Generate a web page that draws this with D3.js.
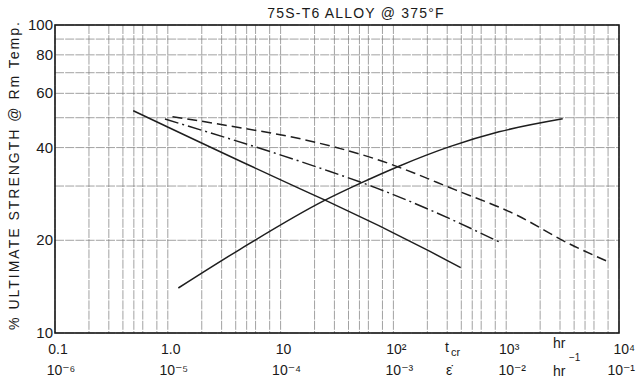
<!DOCTYPE html>
<html>
<head>
<meta charset="utf-8">
<script src="https://cdn.jsdelivr.net/npm/d3@7"></script>
<style>
  body { margin: 0; background: #fff; }
  svg { display: block; }
  text { font-family: "Liberation Sans", "DejaVu Sans", sans-serif; fill: #1a1a1a; }
</style>
</head>
<body>
<svg id="chart" width="636" height="380"></svg>
<script>
// x values are on the upper (hours) scale, y in % ultimate strength
const solidFallX = [0.494, 15.8, 24.8, 211, 395]
const solidFallY = [52.7, 29.1, 27.0, 18.4, 16.3]

const solidRiseX = [1.24, 4.37, 24.8, 50.6, 112, 311, 863, 3170]
const solidRiseY = [14.0, 18.7, 27.0, 30.6, 34.8, 40.2, 45.0, 49.6]

const dashDotX = [0.944, 22.4, 70.1, 211, 881]
const dashDotY = [49.5, 34.3, 29.6, 25.1, 19.7]

const dashedX = [1.10, 3.56, 19.4, 71.6, 359, 1222, 3604, 8147]
const dashedY = [50.4, 47.0, 41.8, 36.6, 29.1, 24.2, 19.5, 17.0]

const yTicks = [10, 20, 40, 60, 80, 100]
const yGrid = [10, 20, 30, 40, 50, 60, 70, 80, 90, 100]
const xDecades = [0.1, 1, 10, 100, 1000, 10000]
const xMinor = [2, 3, 4, 5, 6, 8]
const xTopLabels = ["0.1", "1.0", "10", "10²", "10³", "10⁴"]
const xBottomLabels = ["10⁻⁶", "10⁻⁵", "10⁻⁴", "10⁻³", "10⁻²", "10⁻¹"]

const svg = d3.select("#chart")
const plotL = 55, plotR = 619, plotT = 25, plotB = 333

const x = d3.scaleLog().domain([0.1, 1e4]).range([plotL, plotR])
const y = d3.scaleLog().domain([10, 100]).range([plotB, plotT])

// grid
const gridX = []
xDecades.slice(0, -1).forEach(d => xMinor.forEach(m => gridX.push(d * m)))
xDecades.forEach(d => gridX.push(d))

const grid = svg.append("g")
    .attr("stroke", "#7a7a7a")
    .attr("stroke-width", 0.7)
    .attr("stroke-dasharray", "9,1.2")

grid.selectAll("line.v")
    .data(gridX)
    .join("line")
    .attr("class", "v")
    .attr("x1", d => x(d)).attr("x2", d => x(d))
    .attr("y1", plotT).attr("y2", plotB)

grid.selectAll("line.h")
    .data(yGrid)
    .join("line")
    .attr("class", "h")
    .attr("x1", plotL).attr("x2", plotR)
    .attr("y1", d => y(d)).attr("y2", d => y(d))

// frame
svg.append("rect")
    .attr("x", plotL).attr("y", plotT)
    .attr("width", plotR - plotL).attr("height", plotB - plotT)
    .attr("fill", "none")
    .attr("stroke", "#1a1a1a")
    .attr("stroke-width", 1.6)

// curves
const line = d3.line().x(d => x(d[0])).y(d => y(d[1])).curve(d3.curveMonotoneX)
const curves = [
    { xs: solidFallX, ys: solidFallY, dash: null },
    { xs: solidRiseX, ys: solidRiseY, dash: null },
    { xs: dashDotX, ys: dashDotY, dash: "14,4,2,4" },
    { xs: dashedX, ys: dashedY, dash: "10,5" },
]

svg.append("g")
    .attr("fill", "none")
    .attr("stroke", "#1e1e1e")
    .attr("stroke-width", 1.5)
    .selectAll("path")
    .data(curves)
    .join("path")
    .attr("stroke-dasharray", d => d.dash)
    .attr("d", d => line(d.xs.map((v, i) => [v, d.ys[i]])))

// y tick labels
svg.append("g")
    .selectAll("text")
    .data(yTicks)
    .join("text")
    .attr("x", plotL - 2)
    .attr("y", d => y(d) + 5)
    .attr("text-anchor", "end")
    .attr("font-size", 15)
    .text(d => d)

// x tick labels, two rows
const last = xDecades.length - 1
svg.append("g")
    .selectAll("text")
    .data(xDecades)
    .join("text")
    .attr("x", (d, i) => i === last ? 635 : x(d) + 3)
    .attr("y", 354)
    .attr("text-anchor", (d, i) => i === last ? "end" : "middle")
    .attr("font-size", 14)
    .text((d, i) => xTopLabels[i])

svg.append("g")
    .selectAll("text")
    .data(xDecades)
    .join("text")
    .attr("x", (d, i) => i === last ? 635 : x(d) + 6)
    .attr("y", 375)
    .attr("text-anchor", (d, i) => i === last ? "end" : "middle")
    .attr("font-size", 14)
    .text((d, i) => xBottomLabels[i])

// unit labels between ticks
const units = svg.append("g").attr("font-size", 14)
units.append("text").attr("x", 445).attr("y", 352).text("t")
units.append("text").attr("x", 451).attr("y", 356).attr("font-size", 11).text("cr")
units.append("text").attr("x", 446).attr("y", 375).text("ε̇")
units.append("text").attr("x", 553).attr("y", 348).text("hr")
units.append("text").attr("x", 569).attr("y", 361).attr("font-size", 10).text("−1")
units.append("text").attr("x", 553).attr("y", 376).text("hr")

// title
svg.append("text")
    .attr("x", 356)
    .attr("y", 18)
    .attr("text-anchor", "middle")
    .attr("font-size", 14)
    .attr("letter-spacing", 1.2)
    .text("75S-T6 ALLOY @ 375°F")

// y axis title
svg.append("text")
    .attr("transform", "translate(19,175) rotate(-90)")
    .attr("text-anchor", "middle")
    .attr("font-size", 14)
    .attr("letter-spacing", 2)
    .text("% ULTIMATE STRENGTH @ Rm Temp.")
</script>
</body>
</html>
